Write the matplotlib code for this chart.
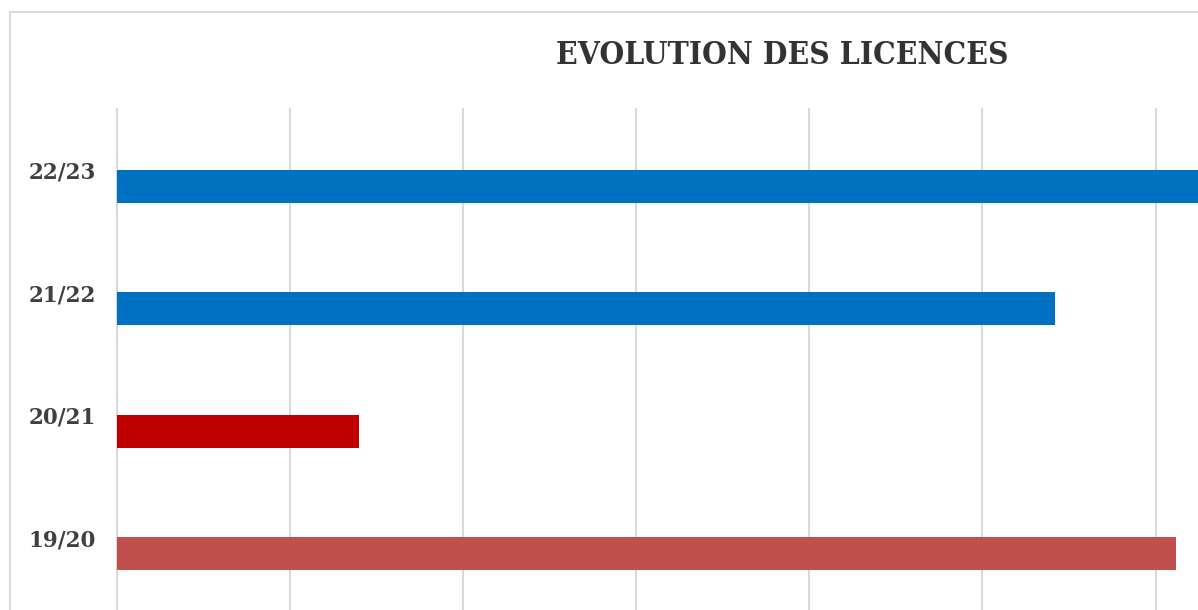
import matplotlib
matplotlib.use('Agg')
from matplotlib import pyplot as plt
from matplotlib.patches import Rectangle

# data (bottom to top)
seasons = ['19/20', '20/21', '21/22', '22/23']
licences = [122.3, 28, 108.4, 131]
bar_colors = ['#C0504D', '#C00000', '#0070C0', '#0070C0']
grid_ticks = [0, 20, 40, 60, 80, 100, 120, 140]

fig = plt.figure(figsize=(11.98, 6.10), dpi=100)
W, H = 1198, 610

# plot area runs past the right and bottom edges of the picture
left, top = 117, 109
right, bottom = 117 + 7 * 173.1, 620
ax = fig.add_axes([left / W, (H - bottom) / H, (right - left) / W, (bottom - top) / H])

pos = list(range(len(seasons)))
ax.barh([p - 0.13 for p in pos], licences, height=0.27, color=bar_colors, zorder=3)

ax.set_xlim(0, 140)
ax.set_ylim(3.5 - (bottom - top) / 122.5, 3.5)
ax.set_xticks(grid_ticks)
ax.xaxis.grid(True, color='#d9d9d9', linewidth=1.5)
for gl in ax.get_xgridlines():
    gl.set_clip_on(False)
ax.tick_params(axis='x', length=0, labelbottom=False)
ax.set_yticks(pos)
ax.set_yticklabels(seasons, fontfamily='DejaVu Serif', fontweight='bold',
                   fontsize=15.5, color='#404040')
ax.tick_params(axis='y', length=0, pad=15)
for s in ax.spines.values():
    s.set_visible(False)

fig.text(782 / W, 1 - 55 / H, 'EVOLUTION DES LICENCES', ha='center', va='center',
         fontfamily='DejaVu Serif', fontstretch='condensed', fontweight='bold',
         fontsize=22.8, color='#333333')

# chart frame
fig.add_artist(Rectangle((10 / W, -0.1), 1.2, 1 - 12 / H + 0.1, transform=fig.transFigure,
                         fill=False, edgecolor='#d9d9d9', linewidth=1.5))

fig.savefig('out.png', dpi=100)
